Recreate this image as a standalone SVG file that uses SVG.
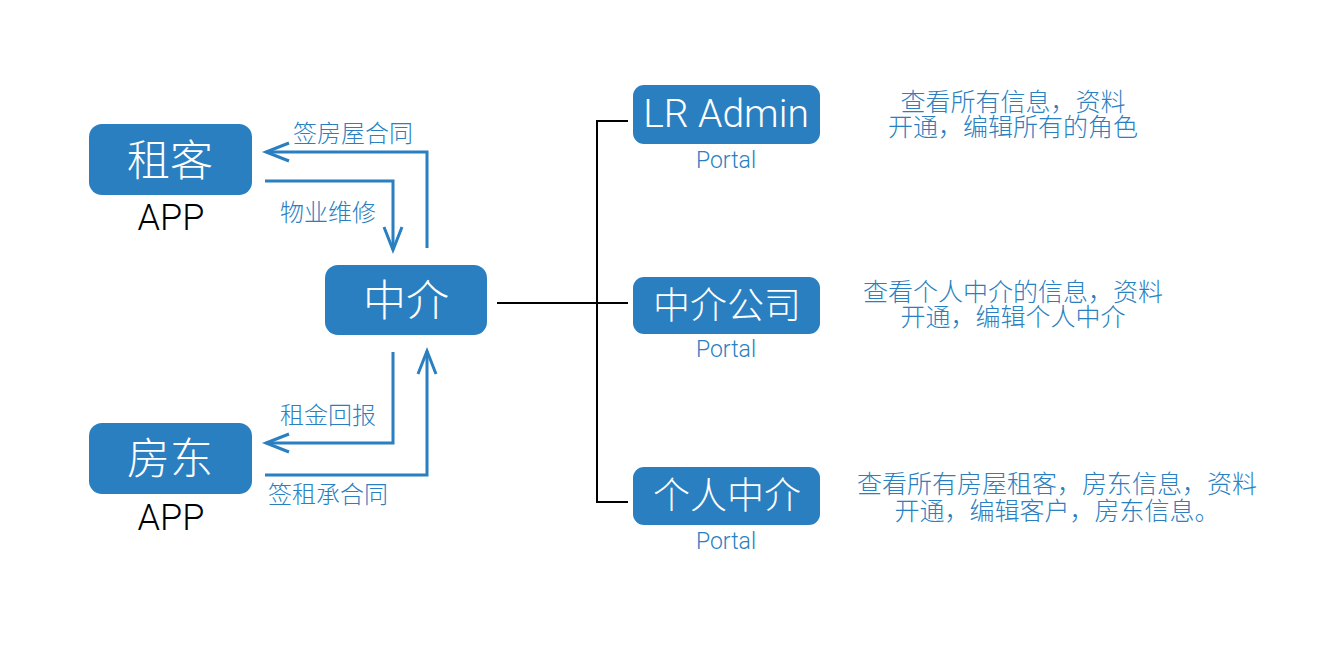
<svg xmlns="http://www.w3.org/2000/svg" width="1334" height="667" viewBox="0 0 1334 667">
<style>
.box{fill:#2a7fc1}
.bt{fill:#ffffff;font-family:"Noto Sans CJK SC","Liberation Sans",sans-serif;font-weight:300;text-anchor:middle}
.lt{fill:#ffffff;font-family:Roboto,"Liberation Sans",sans-serif;font-weight:300;text-anchor:middle}
.app{fill:#000000;font-family:Roboto,"Liberation Sans",sans-serif;font-weight:300;font-size:36px;text-anchor:middle}
.portal{fill:#2a7fc1;font-family:Roboto,"Liberation Sans",sans-serif;font-weight:300;font-size:23px;text-anchor:middle}
.lbl{fill:#2a7fc1;font-family:"Noto Sans CJK SC",sans-serif;font-weight:300;font-size:24px}
.desc{fill:#2a7fc1;font-family:"Noto Sans CJK SC",sans-serif;font-weight:300;font-size:25px;text-anchor:middle}
.ar{fill:none;stroke:#2a7fc1;stroke-width:3}
.bl{fill:none;stroke:#000000;stroke-width:2}
</style>
<defs>
<marker id="arr" markerUnits="userSpaceOnUse" viewBox="-26 -12 30 24" refX="0" refY="0" markerWidth="30" markerHeight="24" orient="auto" overflow="visible">
<path d="M-23,-9 L0,0 L-23,9" fill="none" stroke="#2a7fc1" stroke-width="3"/>
</marker>
</defs>
<rect width="1334" height="667" fill="#ffffff"/>
<g id="connectors">
<path class="ar" d="M427,248 V152 H266" marker-end="url(#arr)"/>
<path class="ar" d="M265,181 H393 V250" marker-end="url(#arr)"/>
<path class="ar" d="M393,352 V443 H266" marker-end="url(#arr)"/>
<path class="ar" d="M265,475 H427 V351" marker-end="url(#arr)"/>
<path class="bl" d="M497,303 H628"/>
<path class="bl" d="M628,121 H597 V502 H628"/>
<text class="lbl" x="293" y="142">签房屋合同</text>
<text class="lbl" x="280" y="221">物业维修</text>
<text class="lbl" x="280" y="424">租金回报</text>
<text class="lbl" x="268" y="503">签租承合同</text>
</g>
<g id="tenant">
<rect class="box" x="89" y="124" width="163" height="71" rx="13"/>
<text class="bt" x="170" y="176" font-size="43">租客</text>
<text class="app" x="171" y="230">APP</text>
</g>
<g id="landlord">
<rect class="box" x="89" y="423" width="163" height="71" rx="13"/>
<text class="bt" x="170" y="474" font-size="43">房东</text>
<text class="app" x="171" y="530">APP</text>
</g>
<g id="agent">
<rect class="box" x="325" y="265" width="162" height="70" rx="13"/>
<text class="bt" x="406" y="316" font-size="43">中介</text>
</g>
<g id="lradmin">
<rect class="box" x="633" y="85" width="187" height="59" rx="11"/>
<text class="lt" x="726" y="127" font-size="39">LR Admin</text>
<text class="portal" x="726" y="168">Portal</text>
</g>
<g id="agency">
<rect class="box" x="633" y="277" width="187" height="57" rx="11"/>
<text class="bt" x="727" y="319" font-size="37">中介公司</text>
<text class="portal" x="726" y="357">Portal</text>
</g>
<g id="individual">
<rect class="box" x="633" y="467" width="187" height="58" rx="11"/>
<text class="bt" x="727" y="509" font-size="37">个人中介</text>
<text class="portal" x="726" y="549">Portal</text>
</g>
<g id="desc1">
<text class="desc" x="1013" y="111">查看所有信息，资料</text>
<text class="desc" x="1013" y="136">开通，编辑所有的角色</text>
</g>
<g id="desc2">
<text class="desc" x="1013" y="301">查看个人中介的信息，资料</text>
<text class="desc" x="1013" y="326">开通，编辑个人中介</text>
</g>
<g id="desc3">
<text class="desc" x="1057" y="493">查看所有房屋租客，房东信息，资料</text>
<text class="desc" x="1057" y="520">开通，编辑客户，房东信息。</text>
</g>
</svg>
